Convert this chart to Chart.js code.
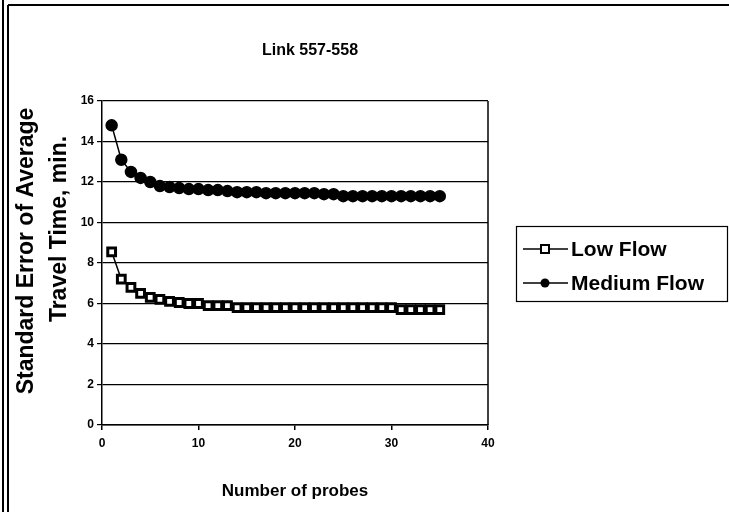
<!DOCTYPE html>
<html>
<head>
<meta charset="utf-8">
<script src="https://cdn.jsdelivr.net/npm/chart.js@4.4.1/dist/chart.umd.min.js"></script>
<style>
  html, body { margin: 0; padding: 0; background: #fff; }
  #wrap { width: 729px; height: 512px; position: relative; }
</style>
</head>
<body>
<div id="wrap"><canvas id="myChart" width="729" height="512"></canvas></div>
<script>
const chartTitle = "Link 557-558";
const xTitle = "Number of probes";
const yTitle = ["Standard Error of Average", "Travel Time, min."];

const probes = [1, 2, 3, 4, 5, 6, 7, 8, 9, 10, 11, 12, 13, 14, 15, 16, 17, 18, 19, 20,
  21, 22, 23, 24, 25, 26, 27, 28, 29, 30, 31, 32, 33, 34, 35];
const lowFlow = [8.55, 7.2, 6.8, 6.5, 6.3, 6.2, 6.1, 6.05, 6.0, 6.0, 5.9, 5.9, 5.9, 5.8, 5.8,
  5.8, 5.8, 5.8, 5.8, 5.8, 5.8, 5.8, 5.8, 5.8, 5.8, 5.8, 5.8, 5.8, 5.8, 5.8,
  5.7, 5.7, 5.7, 5.7, 5.7];
const mediumFlow = [14.8, 13.1, 12.5, 12.2, 12.0, 11.8, 11.75, 11.7, 11.65, 11.65, 11.6, 11.6,
  11.55, 11.5, 11.5, 11.5, 11.45, 11.45, 11.45, 11.45, 11.45, 11.45, 11.4, 11.4,
  11.3, 11.3, 11.3, 11.3, 11.3, 11.3, 11.3, 11.3, 11.3, 11.3, 11.3];

const xTicks = [0, 10, 20, 30, 40];
const yTicks = [0, 2, 4, 6, 8, 10, 12, 14, 16];

const FONT = "'Liberation Sans', Arial, sans-serif";

const toPoints = vals => probes.map((p, i) => ({ x: p, y: vals[i] }));

// frame, titles, right border and legend
const decor = {
  id: "decor",
  afterDraw(chart) {
    const ctx = chart.ctx;
    const a = chart.chartArea;
    ctx.save();
    // outer frame
    ctx.strokeStyle = "#000";
    ctx.lineWidth = 2;
    ctx.beginPath();
    ctx.moveTo(3, 0); ctx.lineTo(3, 512);
    ctx.moveTo(8, 5); ctx.lineTo(8, 512);
    ctx.moveTo(8, 5); ctx.lineTo(729, 5);
    ctx.stroke();

    // plot right border
    ctx.lineWidth = 1.5;
    ctx.beginPath();
    ctx.moveTo(a.right, a.top); ctx.lineTo(a.right, a.bottom);
    ctx.stroke();

    ctx.fillStyle = "#000";
    ctx.textAlign = "center";
    ctx.textBaseline = "middle";
    ctx.font = "bold 16px " + FONT;
    ctx.fillText(chartTitle, 310, 51);

    ctx.font = "bold 17px " + FONT;
    ctx.fillText(xTitle, 295, 491);

    ctx.font = "bold 23px " + FONT;
    ctx.save();
    ctx.translate(27, 251);
    ctx.rotate(-Math.PI / 2);
    ctx.fillText(yTitle[0], 0, 0);
    ctx.restore();
    ctx.save();
    ctx.translate(60, 229);
    ctx.rotate(-Math.PI / 2);
    ctx.fillText(yTitle[1], 0, 0);
    ctx.restore();

    // legend
    ctx.lineWidth = 1.2;
    ctx.strokeRect(516.5, 226.5, 211, 75);
    const rows = [249, 283];
    chart.data.datasets.forEach((ds, i) => {
      const y = rows[i];
      ctx.lineWidth = 1.5;
      ctx.beginPath();
      ctx.moveTo(523, y); ctx.lineTo(568, y);
      ctx.stroke();
      if (ds.pointStyle === "rect") {
        ctx.fillStyle = "#fff";
        ctx.fillRect(541, y - 4, 8, 8);
        ctx.lineWidth = 2;
        ctx.strokeRect(541, y - 4, 8, 8);
      } else {
        ctx.fillStyle = "#000";
        ctx.beginPath();
        ctx.arc(545, y, 4.5, 0, Math.PI * 2);
        ctx.fill();
      }
      ctx.fillStyle = "#000";
      ctx.textAlign = "left";
      ctx.font = "bold 21px " + FONT;
      ctx.fillText(ds.label, 571, y + 1);
    });
    ctx.restore();
  }
};

const ctx = document.getElementById("myChart").getContext("2d");
const chart = new Chart(ctx, {
  type: "line",
  data: {
    datasets: [
      {
        label: "Low Flow",
        data: toPoints(lowFlow),
        borderColor: "#000",
        borderWidth: 1.5,
        pointStyle: "rect",
        pointRadius: 5.5,
        pointBorderWidth: 3,
        pointBackgroundColor: "#fff",
        pointBorderColor: "#000",
        tension: 0
      },
      {
        label: "Medium Flow",
        data: toPoints(mediumFlow),
        borderColor: "#000",
        borderWidth: 1.5,
        pointStyle: "circle",
        pointRadius: 5.5,
        pointBackgroundColor: "#000",
        pointBorderColor: "#000",
        tension: 0
      }
    ]
  },
  options: {
    responsive: false,
    animation: false,
    layout: { padding: { left: 0, right: 241, top: 101, bottom: 0 } },
    plugins: { legend: { display: false }, title: { display: false }, tooltip: { enabled: false } },
    scales: {
      x: {
        type: "linear",
        min: 0,
        max: 40,
        afterBuildTicks: s => { s.ticks = xTicks.map(v => ({ value: v })); },
        afterFit: s => { s.height = 87; },
        ticks: { color: "#000", font: { family: FONT, weight: "bold", size: 12 }, padding: 6, maxRotation: 0 },
        grid: { drawOnChartArea: false, color: "#000", tickLength: 5, lineWidth: 1.5 },
        border: { color: "#000", width: 1.5 }
      },
      y: {
        min: 0,
        max: 16,
        afterBuildTicks: s => { s.ticks = yTicks.map(v => ({ value: v })); },
        afterFit: s => { s.width = 102; },
        ticks: { color: "#000", font: { family: FONT, weight: "bold", size: 12 }, padding: 3 },
        grid: { color: "#000", tickLength: 5, lineWidth: 1.2 },
        border: { color: "#000", width: 1.5 }
      }
    }
  },
  plugins: [decor]
});
</script>
</body>
</html>
